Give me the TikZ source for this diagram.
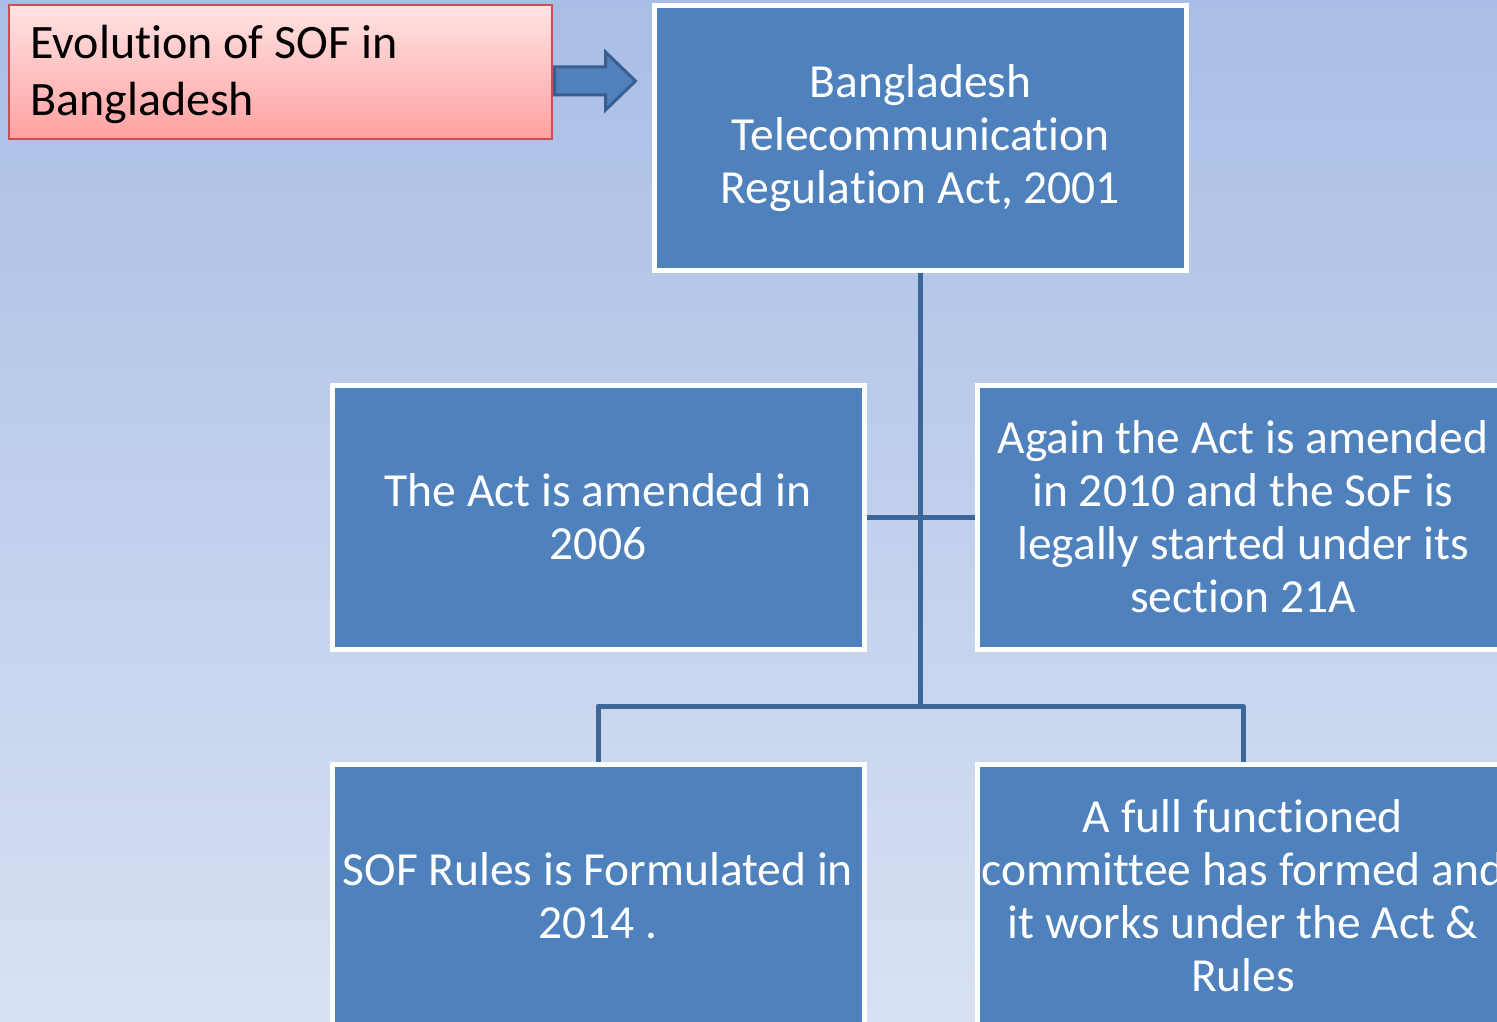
\documentclass[tikz,border=0pt]{standalone}
\usepackage{fontspec}
\setmainfont[Ligatures=NoCommon]{Carlito}
\usetikzlibrary{calc}
\definecolor{boxblue}{HTML}{4F81BD}
\definecolor{linkblue}{HTML}{3D6699}
\definecolor{arrowedge}{HTML}{3A5F8F}
\definecolor{bgtop}{HTML}{A9BEE6}
\definecolor{bgbot}{HTML}{D8E1F3}
\definecolor{redtop}{HTML}{FFE3E3}
\definecolor{redbot}{HTML}{FFA1A1}
\definecolor{rededge}{HTML}{C9504F}
\tikzset{
  stepbox/.style={draw=white, line width=5pt, fill=boxblue, rectangle,
    minimum width=532pt, minimum height=264pt, inner sep=0pt,
    text=white, align=center, font=\fontsize{47.5}{53}\selectfont},
  titlebox/.style={draw=rededge, line width=2pt, top color=redtop, bottom color=redbot,
    rectangle, minimum width=543pt, minimum height=134pt, inner sep=0pt},
  link/.style={draw=linkblue, line width=5pt},
}
\begin{document}
\begin{tikzpicture}[x=1pt,y=-1pt]
\useasboundingbox (0,0) rectangle (1497,1022);
\clip (0,0) rectangle (1497,1022);
\shade[top color=bgtop, bottom color=bgbot] (0,0) rectangle (1497,1022);
% title
\node[titlebox] (title) at (280.5,72) {};
\node[anchor=west, align=left, font=\fontsize{48}{57}\selectfont, inner sep=0pt] (titletext) at (30,74) {Evolution of SOF in\\Bangladesh};
% block arrow
\draw[fill=boxblue, draw=arrowedge, line width=3pt, line join=miter]
  ($(title.east)+(1.5,-5)$) -- ++(51,0) -- ++(0,-15) -- ++(30,29) -- ++(-30,29) -- ++(0,-15) -- ++(-51,0) -- cycle;
% boxes
\node[stepbox] (act) at (920.5,138) {Bangladesh\\Telecommunication\\Regulation Act, 2001};
\node[stepbox] (amend) at (598,517) {The Act is amended in\\2006};
\node[stepbox] (again) at (1243,517) {Again the Act is amended\\in 2010 and the SoF is\\legally started under its\\section 21A};
\node[stepbox] (rules) at (598,896) {SOF Rules is Formulated in\\2014 .};
\node[stepbox] (committee) at (1243,896) {A full functioned\\committee has formed and\\it works under the Act \&\\Rules};
% connectors
\coordinate (split) at (920.5,706);
\draw[link] (act.south) -- (split);
\draw[link] (amend.east) -- (again.west);
\draw[link, line join=round] (rules.north) |- (split) -| (committee.north);
\end{tikzpicture}
\end{document}
